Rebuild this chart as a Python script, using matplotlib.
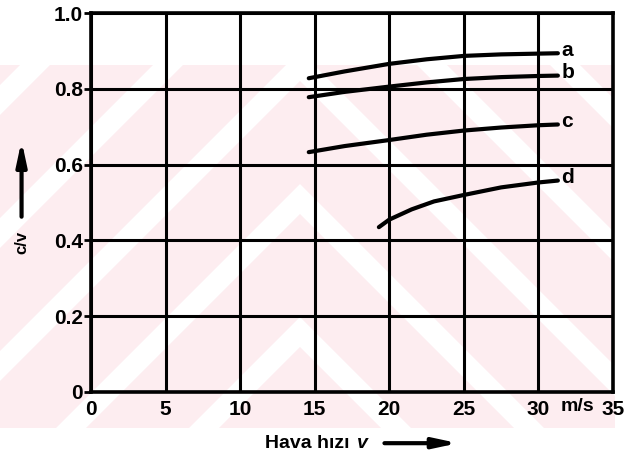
import numpy as np
import matplotlib
matplotlib.use("Agg")
import matplotlib.pyplot as plt
from matplotlib.patches import Polygon, Rectangle

# curve data (air speed v in m/s, c/v)
v_a = [14.6, 17.0, 20.0, 22.5, 25.0, 27.5, 30.0, 31.3]
cv_a = [0.828, 0.846, 0.866, 0.878, 0.887, 0.891, 0.893, 0.894]
v_b = [14.6, 17.0, 20.0, 22.5, 25.0, 27.5, 30.0, 31.3]
cv_b = [0.778, 0.792, 0.806, 0.817, 0.826, 0.831, 0.834, 0.835]
v_c = [14.6, 17.0, 20.0, 22.5, 25.0, 27.5, 30.0, 31.3]
cv_c = [0.633, 0.649, 0.665, 0.679, 0.690, 0.698, 0.704, 0.706]
v_d = [19.3, 20.0, 21.5, 23.0, 25.0, 27.5, 30.0, 31.3]
cv_d = [0.435, 0.455, 0.482, 0.503, 0.520, 0.540, 0.553, 0.558]
curve_labels = ["a", "b", "c", "d"]

x_ticks = [0, 5, 10, 15, 20, 25, 30, 35]
y_ticks = [0, 0.2, 0.4, 0.6, 0.8, 1.0]
y_ticklabels = ["0", "0.2", "0.4", "0.6", "0.8", "1.0"]

plt.rcParams["font.family"] = ["Liberation Sans", "DejaVu Sans"]
plt.rcParams["font.weight"] = "bold"

W, H = 634, 467
fig = plt.figure(figsize=(W / 100, H / 100), dpi=100)


def px(x, y):
    # pixel position (top-left origin) -> figure fraction
    return (x / W, 1 - y / H)


# faint pink watermark: "/" stripes on the left, "\" stripes on the right
pink = "#fdedf0"
regions = [((0, 65, 300, 428), 1), ((300, 65, 615, 428), -1)]
for (x0, y0, x1, y1), sgn in regions:
    clip = Rectangle(px(x0, y1), (x1 - x0) / W, (y1 - y0) / H,
                     transform=fig.transFigure, facecolor="none")
    for k in range(-4, 8):
        c0 = -18 + 133 * k
        c1 = c0 + 103
        if sgn > 0:
            pts = [(c0 - y0, y0), (c1 - y0, y0), (c1 - y1, y1), (c0 - y1, y1)]
        else:
            pts = [(600 - c0 + y0, y0), (600 - c1 + y0, y0),
                   (600 - c1 + y1, y1), (600 - c0 + y1, y1)]
        poly = Polygon([px(*p) for p in pts], closed=True,
                       transform=fig.transFigure, facecolor=pink,
                       edgecolor="none", zorder=-1)
        poly.set_clip_path(clip)
        fig.patches.append(poly)

ax = fig.add_axes([0.1435, 0.1606, 0.8235, 0.8114])
ax.patch.set_alpha(0)

curves = [(v_a, cv_a), (v_b, cv_b), (v_c, cv_c), (v_d, cv_d)]
for (vs, cs), lab in zip(curves, curve_labels):
    ax.plot(vs, cs, color="black", lw=3.0, solid_capstyle="round", zorder=3)
    ax.text(vs[-1] + 0.25, cs[-1] + 0.008, lab,
            fontsize=15, fontweight="bold", va="center", ha="left")

ax.set_xlim(0, 35)
ax.set_ylim(0, 1.0)
ax.set_xticks(x_ticks)
ax.set_xticklabels([str(t) for t in x_ticks])
ax.set_yticks(y_ticks)
ax.set_yticklabels(y_ticklabels)
ax.grid(True, color="black", lw=2.2)
ax.tick_params(axis="both", labelsize=15, width=2, length=5, pad=1)
ax.tick_params(axis="x", length=0, pad=6)
for s in ax.spines.values():
    s.set_linewidth(2.6)

ax.text(32.6, -0.016, "m/s", fontsize=14,
        fontweight="bold", ha="center", va="top")

# axis titles with arrows
fig.text(0.034, 0.48, "c/v", rotation=90, fontsize=12, fontweight="bold",
         ha="center", va="center")
ax.annotate("", xy=(0.034, 0.705), xytext=(0.034, 0.53),
            xycoords="figure fraction", textcoords="figure fraction",
            arrowprops=dict(arrowstyle="-|>,head_width=0.3,head_length=1.4",
                            lw=3, color="black"))
fig.text(0.418, 0.051, "Hava hızı", fontsize=14, fontweight="bold",
         ha="left", va="center")
fig.text(0.563, 0.051, "v", fontsize=14, fontweight="bold", style="italic",
         ha="left", va="center")
ax.annotate("", xy=(0.727, 0.051), xytext=(0.602, 0.051),
            xycoords="figure fraction", textcoords="figure fraction",
            arrowprops=dict(arrowstyle="-|>,head_width=0.3,head_length=1.4",
                            lw=3, color="black"))

fig.savefig("out.png", dpi=100)
